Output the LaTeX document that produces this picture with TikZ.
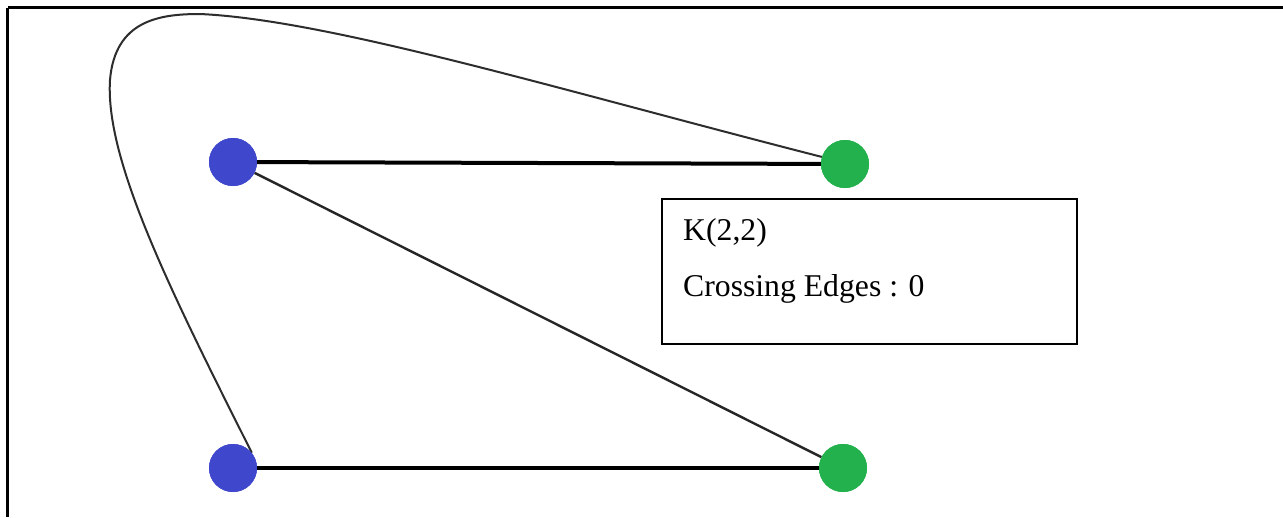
\documentclass[tikz,border=0pt]{standalone}
\usepackage{fontspec}
\setmainfont{Liberation Serif}
\definecolor{vblue}{RGB}{63,72,204}
\definecolor{vgreen}{RGB}{34,177,76}
\definecolor{curvegray}{RGB}{45,45,45}
\tikzset{
  vertex/.style={circle, inner sep=0pt, minimum size=48pt},
  leftpart/.style={vertex, fill=vblue},
  rightpart/.style={vertex, fill=vgreen},
  thickedge/.style={line width=4pt, black},
  thinedge/.style={line width=2.4pt, black!85},
  curveedge/.style={line width=2pt, curvegray},
  frameline/.style={line width=2.5pt, black},
  infobox/.style={draw, line width=2pt, inner sep=0pt},
  infotext/.style={inner sep=0pt, anchor=base west, font=\fontsize{31.7}{38}\selectfont}
}
\begin{document}
\begin{tikzpicture}[x=1pt, y=-1pt]
  \useasboundingbox (0,0) rectangle (1283,517);
  \fill[white] (0,0) rectangle (1283,517);

  % outer frame (top and left sides)
  \draw[frameline] (7.5,7.5) -- (1283,7.5);
  \draw[frameline] (7.5,7.5) -- (7.5,517);

  % vertices of K(2,2)
  \node[leftpart]  (b1) at (233,162) {};
  \node[leftpart]  (b2) at (233,468) {};
  \node[rightpart] (g1) at (845,164) {};
  \node[rightpart] (g2) at (843,468) {};

  % edges
  \draw[thickedge] (b1) -- (g1);
  \draw[thickedge] (b2) -- (g2);
  \draw[thinedge]  (b1) -- (g2);
  \draw[curveedge] (b2.39) .. controls (170,290) and (105,160) .. (110,80)
                   .. controls (115,20) and (160,14) .. (200,14)
                   .. controls (330,20) and (560,90) .. (g1.163);

  % redraw vertices over the edge ends
  \node[leftpart]  at (b1) {};
  \node[leftpart]  at (b2) {};
  \node[rightpart] at (g1) {};
  \node[rightpart] at (g2) {};

  % information box
  \draw[line width=2pt] (662,199) rectangle (1077,344);
  \node[infotext] (title) at (683,240) {K(2,2)};
  \node[infotext] (count) at (683,296) {Crossing Edges : 0};
\end{tikzpicture}
\end{document}
